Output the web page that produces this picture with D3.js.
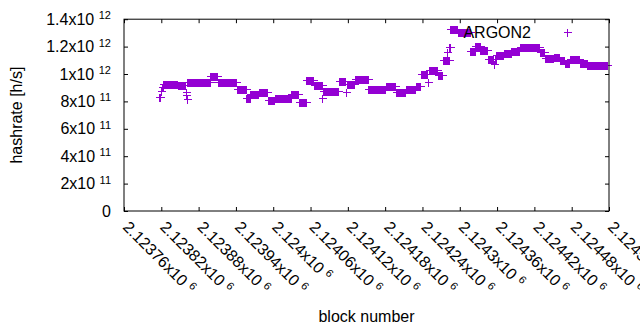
<!DOCTYPE html>
<html>
<head>
<meta charset="utf-8">
<script src="https://cdn.jsdelivr.net/npm/d3@7"></script>
<style>
  html, body { margin: 0; padding: 0; background: #fff; }
  text { font-family: "Liberation Sans", Arial, sans-serif; fill: #000; }
</style>
</head>
<body>
<svg id="chart" width="640" height="330"></svg>
<script>
// ---- data ----
const seriesName = "ARGON2";
const firstBlock = 2123817;   // block number of the first point
const blockStep = 1;          // one value per consecutive block
// hashrate in units of 10^9 h/s, one value per block
const hashrateG = [
  831, 831, 875, 875, 905, 905,
  930, 930, 930, 930, 930, 930, 930, 930, 930, 930, 930, 930,
  930, 930, 930, 930, 930, 930, 930, 930, 930, 930, 930, 930,
  919, 919, 919, 919, 919, 919, 919, 919, 919, 919, 919, 919,
  868, 846, 817,
  938, 938, 938, 938, 938, 938, 938, 938, 938, 938, 938, 938,
  938, 938, 938, 938, 938, 938, 938, 938, 938, 938, 938, 938,
  938, 938, 938, 938, 938, 938, 938, 938, 938, 938, 938, 938,
  938,
  984, 984, 984, 984, 984, 984, 984, 984, 984, 984, 984, 984,
  941, 941, 941, 941, 941, 941, 941, 941, 941, 941, 941, 941,
  941, 941, 941, 941, 941, 941, 941, 941, 941, 941, 941, 941,
  941, 941, 941, 941, 941, 941,
  887, 887, 887, 887, 887, 887, 887, 887, 887, 887, 887, 887,
  887, 887, 887, 887,
  822, 822, 822, 822, 822, 822,
  853, 853, 853, 853, 853, 853, 853, 853, 853, 853, 853, 853,
  853, 853,
  868, 868, 868, 868, 868, 868, 868, 868, 868, 868, 868, 868,
  868, 868,
  809, 809, 809, 809, 809, 809, 809, 809, 809, 809, 809, 809,
  822, 822, 822, 822, 822, 822, 822, 822, 822, 822, 822, 822,
  822, 822, 822, 822, 822, 822, 822, 822, 822, 822, 822, 822,
  822, 822,
  851, 851, 851, 851, 851, 851, 851, 851, 851, 851, 851, 851,
  797, 797, 797, 797, 797, 797, 797, 797, 797, 797, 797, 797,
  955, 955, 955, 955, 955, 955, 955, 955, 955, 955, 955, 955,
  917, 917, 917, 917, 917, 917, 917, 917, 917, 917, 917, 917,
  917, 917,
  826,
  877, 877, 877, 877, 877, 877, 877, 877, 877, 877, 877, 877,
  877, 877, 877, 877, 877, 877, 877, 877, 877, 877, 877, 877,
  877,
  946, 946, 946, 946, 946, 946, 946, 946, 946, 946, 946, 946,
  868,
  926, 926, 926, 926, 926, 926, 926, 926, 926, 926, 926, 926,
  926,
  960, 960, 960, 960, 960, 960, 960, 960, 960, 960, 960, 960,
  960, 960, 960, 960, 960, 960, 960, 960, 960, 960,
  890, 890, 890, 890, 890, 890, 890, 890, 890, 890, 890, 890,
  890, 890, 890, 890, 890, 890, 890, 890, 890, 890, 890, 890,
  890, 890, 890, 890,
  911, 911, 911, 911, 911, 911, 911, 911, 911, 911, 911, 911,
  911, 911, 911, 911,
  870, 870, 870, 870, 870, 870, 870, 870, 870, 870, 870, 870,
  870, 870, 870, 870,
  887, 887, 887, 887, 887, 887, 887, 887, 887, 887, 887, 887,
  887, 887, 887, 887,
  911, 911, 911, 911, 911, 911, 911, 911,
  999, 999, 999, 999, 999, 999, 999, 999, 999, 999, 999, 999,
  941,
  1028, 1028, 1028, 1028, 1028, 1028, 1028, 1028, 1028, 1028, 1028, 1028,
  1028, 1028, 1028,
  992, 992, 992, 992, 992, 992, 992, 992,
  1101, 1101, 1101, 1101, 1101, 1101, 1101, 1159, 1101, 1101, 1196, 1196,
  1325, 1325, 1325, 1325, 1325, 1325, 1325, 1325, 1325, 1325, 1325, 1325,
  1303, 1303, 1303, 1303, 1303, 1303, 1303, 1303, 1303, 1303, 1303, 1303,
  1303, 1303, 1303, 1303, 1303, 1303, 1303, 1303,
  1167, 1167, 1167, 1167, 1167, 1167, 1167, 1167,
  1205, 1205, 1205, 1205, 1205, 1205, 1205, 1205,
  1174, 1174, 1174, 1174, 1174, 1174, 1174, 1174, 1174, 1174, 1174, 1174,
  1113, 1113, 1113, 1113, 1113, 1113, 1113, 1113, 1113, 1113, 1072, 1113,
  1113, 1113,
  1138, 1138, 1138, 1138, 1138, 1138, 1138, 1138, 1138, 1138, 1138, 1138,
  1150, 1150, 1150, 1150, 1150, 1150, 1150, 1150, 1150, 1150, 1150, 1150,
  1165, 1165, 1165, 1165, 1165, 1165, 1165, 1165, 1165, 1165, 1165, 1165,
  1165, 1165,
  1198, 1198, 1198, 1198, 1198, 1198, 1198, 1198, 1198, 1198, 1198, 1198,
  1198, 1198, 1198, 1198, 1198, 1198, 1198, 1198, 1198, 1198, 1198, 1198,
  1198, 1198, 1198, 1198, 1198, 1198, 1198, 1198,
  1159, 1159, 1159, 1159, 1159, 1159, 1159, 1159,
  1116, 1116, 1116, 1116, 1116, 1116, 1116, 1116, 1116, 1116, 1116, 1116,
  1116, 1116,
  1125, 1125, 1125, 1125, 1125, 1125, 1125, 1125, 1125, 1125,
  1101, 1101, 1101, 1101, 1101, 1101, 1101, 1101,
  1079, 1079, 1079, 1079, 1079, 1079, 1079, 1079,
  1113, 1113, 1113, 1113, 1113, 1113, 1113, 1113, 1113, 1113, 1113, 1113,
  1113, 1113, 1113, 1113,
  1079, 1079, 1079, 1079, 1079, 1079, 1079, 1079, 1079, 1079, 1079, 1079,
  1065, 1065, 1065, 1065, 1065, 1065, 1065, 1065, 1065, 1065, 1065, 1065,
  1065, 1065, 1065, 1065, 1065, 1065, 1065, 1065, 1065, 1065, 1065, 1065,
  1065, 1065, 1065, 1065, 1065, 1065, 1065, 1065
];

// tick labels
const xTickMantissas = ["2.12376","2.12382","2.12388","2.12394","2.124","2.12406","2.12412",
                        "2.12418","2.12424","2.1243","2.12436","2.12442","2.12448","2.12454"];
const xTickExponent = "6";
const yTickValuesG = [0, 200, 400, 600, 800, 1000, 1200, 1400];
const yTickMantissas = ["0", "2", "4", "6", "8", "1", "1.2", "1.4"];
const yTickExponents = ["", "11", "11", "11", "11", "12", "12", "12"];
const xLabel = "block number";
const yLabel = "hashrate [h/s]";

// ---- layout ----
const W = 640, H = 330;
const L = 124, R = 609, T = 19.2, B = 211;
const color = "#9400D3";

const svg = d3.select("#chart");
svg.append("rect").attr("width", W).attr("height", H).attr("fill", "#fff");

const xTickValues = xTickMantissas.map(m => Math.round(parseFloat(m) * 1e6));
const x = d3.scaleLinear().domain([xTickValues[0], xTickValues[xTickValues.length - 1]]).range([L, R]);
const y = d3.scaleLinear().domain([0, 1400]).range([B, T]);

const points = hashrateG.map((v, i) => ({ block: firstBlock + i * blockStep, v }));

// data markers
const plus = "M-4,0H4M0,-4V4";
svg.append("g").attr("shape-rendering", "crispEdges")
  .selectAll("path").data(points).join("path")
  .attr("transform", d => `translate(${Math.round(x(d.block)) + 0.5},${Math.round(y(d.v)) + 0.5})`)
  .attr("d", plus)
  .attr("fill", "none")
  .attr("stroke", color)
  .attr("stroke-width", 1);

// axes ticks (inward, mirrored)
function styleAxis(g) {
  g.select(".domain").remove();
  g.selectAll(".tick line").attr("stroke", "#000").attr("stroke-width", 1);
  g.selectAll(".tick text").remove();
}
svg.append("g").attr("transform", `translate(0,${B})`)
  .call(d3.axisBottom(x).tickValues(xTickValues).tickSize(-4).tickFormat("")).call(styleAxis);
svg.append("g").attr("transform", `translate(0,${T})`)
  .call(d3.axisTop(x).tickValues(xTickValues).tickSize(-4).tickFormat("")).call(styleAxis);
svg.append("g").attr("transform", `translate(${L},0)`)
  .call(d3.axisLeft(y).tickValues(yTickValuesG).tickSize(-4).tickFormat("")).call(styleAxis);
svg.append("g").attr("transform", `translate(${R},0)`)
  .call(d3.axisRight(y).tickValues(yTickValuesG).tickSize(-4).tickFormat("")).call(styleAxis);

// frame
svg.append("rect")
  .attr("x", L).attr("y", T).attr("width", R - L).attr("height", B - T)
  .attr("fill", "none").attr("stroke", "#000").attr("stroke-width", 1);

// y tick labels
yTickValuesG.forEach((v, i) => {
  const t = svg.append("text")
    .attr("x", 111).attr("y", y(v) + 5.5)
    .attr("text-anchor", "end").attr("font-size", 16);
  if (yTickExponents[i]) {
    t.append("tspan").text(yTickMantissas[i] + "x10");
    t.append("tspan").attr("dx", 4.5).attr("dy", -5.5).attr("font-size", 11).text(yTickExponents[i]);
  } else {
    t.text(yTickMantissas[i]);
  }
});

// x tick labels (rotated)
xTickValues.forEach((v, i) => {
  const t = svg.append("text")
    .attr("transform", `translate(${x(v) - 2},228) rotate(45)`)
    .attr("text-anchor", "start").attr("font-size", 16);
  t.append("tspan").text(xTickMantissas[i] + "x10");
  t.append("tspan").attr("dx", 4.5).attr("dy", -5.5).attr("font-size", 11).text(xTickExponent);
});

// axis titles
svg.append("text").attr("x", (L + R) / 2).attr("y", 322)
  .attr("text-anchor", "middle").attr("font-size", 16).text(xLabel);
svg.append("text").attr("transform", `translate(22,${(T + B) / 2}) rotate(-90)`)
  .attr("text-anchor", "middle").attr("font-size", 16).text(yLabel);

// key
svg.append("text").attr("x", 531).attr("y", 37.5)
  .attr("text-anchor", "end").attr("font-size", 16).text(seriesName);
svg.append("path").attr("transform", "translate(567.5,32.5)").attr("d", plus)
  .attr("fill", "none").attr("stroke", color).attr("stroke-width", 1)
  .attr("shape-rendering", "crispEdges");
</script>
</body>
</html>
